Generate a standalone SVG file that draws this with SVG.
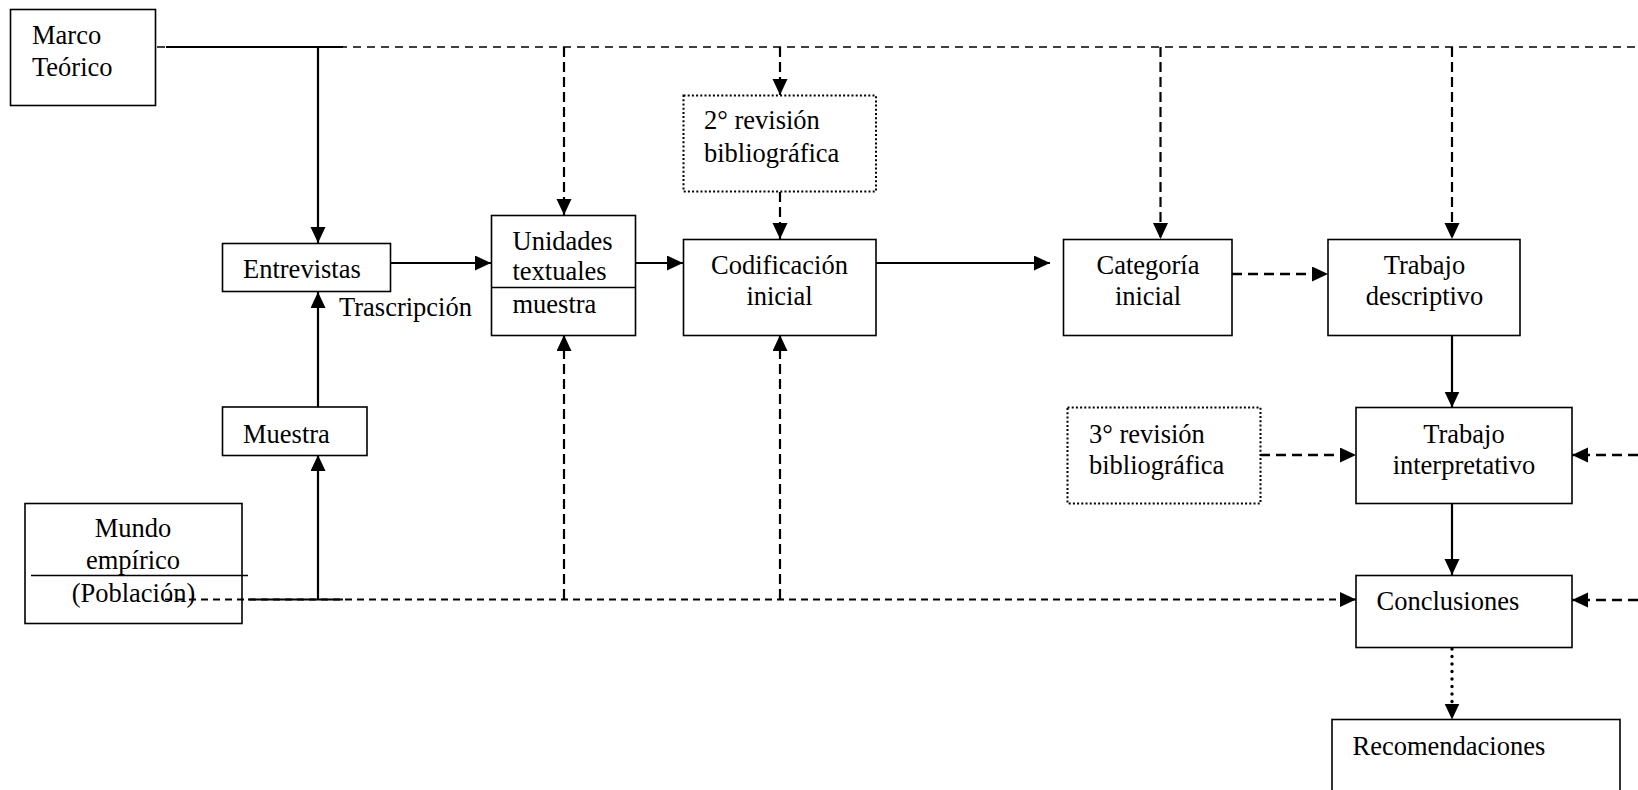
<svg xmlns="http://www.w3.org/2000/svg" width="1638" height="790" viewBox="0 0 1638 790">
<style>
.box{fill:#fff;stroke:#000;stroke-width:1.6}
.dotbox{fill:#fff;stroke:#000;stroke-width:2;stroke-dasharray:2 2.2}
.t{font-family:"Liberation Serif","Times New Roman",serif;font-size:26.5px;fill:#000}
.c{text-anchor:middle}
.solid{fill:none;stroke:#000;stroke-width:2.2}
.dh{fill:none;stroke:#000;stroke-width:1.7;stroke-dasharray:8 6}
.dv{fill:none;stroke:#000;stroke-width:2.2;stroke-dasharray:10 5}
.da{fill:none;stroke:#000;stroke-width:2.6;stroke-dasharray:10 6}
.dot{fill:none;stroke:#000;stroke-width:3.4;stroke-linecap:round;stroke-dasharray:0 7.5}
</style>
<defs>
<marker id="ah" markerUnits="userSpaceOnUse" markerWidth="16" markerHeight="16" refX="16" refY="7.5" orient="auto">
<path d="M0,0 L16,7.5 L0,15 z" fill="#000"/>
</marker>
</defs>
<rect width="1638" height="790" fill="#fff"/>
<g id="mundo-box">
<rect x="25" y="503.5" width="217" height="120" fill="#fff" stroke="none"/>
</g>
<g id="connectors">
<line class="dh" x1="157" y1="47" x2="1638" y2="47"/>
<line class="solid" x1="166" y1="47" x2="343" y2="47"/>
<line class="solid" x1="318" y1="47" x2="318" y2="243" marker-end="url(#ah)"/>
<line class="solid" x1="391" y1="263" x2="491" y2="263" marker-end="url(#ah)"/>
<line class="solid" x1="636" y1="263" x2="683" y2="263" marker-end="url(#ah)"/>
<line class="solid" x1="876" y1="263" x2="1050" y2="263" marker-end="url(#ah)"/>
<line class="solid" x1="318" y1="407" x2="318" y2="292" marker-end="url(#ah)"/>
<line class="solid" x1="318" y1="599" x2="318" y2="455" marker-end="url(#ah)"/>
<line class="dv" x1="564" y1="47" x2="564" y2="215" marker-end="url(#ah)"/>
<line class="dv" x1="780" y1="47" x2="780" y2="95" marker-end="url(#ah)"/>
<line class="dv" x1="780" y1="192" x2="780" y2="239" marker-end="url(#ah)"/>
<line class="dv" x1="1160.5" y1="47" x2="1160.5" y2="239" marker-end="url(#ah)"/>
<line class="dv" x1="1452" y1="47" x2="1452" y2="239" marker-end="url(#ah)"/>
<line class="da" x1="1232" y1="274" x2="1328" y2="274" marker-end="url(#ah)"/>
<line class="solid" x1="1452" y1="335" x2="1452" y2="407.5" marker-end="url(#ah)"/>
<line class="da" x1="1260" y1="455" x2="1356" y2="455" marker-end="url(#ah)"/>
<line class="da" x1="1638" y1="455" x2="1572" y2="455" marker-end="url(#ah)"/>
<line class="solid" x1="1452" y1="503" x2="1452" y2="575" marker-end="url(#ah)"/>
<line class="dh" x1="165" y1="599.5" x2="1356" y2="599.5" style="stroke-width:2;stroke-dasharray:7 5" marker-end="url(#ah)"/>
<line class="solid" x1="248" y1="599.5" x2="343" y2="599.5"/>
<line class="dv" x1="564" y1="599" x2="564" y2="335" marker-end="url(#ah)"/>
<line class="dv" x1="780" y1="599" x2="780" y2="335" marker-end="url(#ah)"/>
<line class="da" x1="1638" y1="600" x2="1572" y2="600" marker-end="url(#ah)"/>
<line class="dot" x1="1452" y1="649" x2="1452" y2="710"/>
<line x1="1452" y1="700" x2="1452" y2="719.5" stroke="#000" stroke-width="0.1" marker-end="url(#ah)"/>
</g>
<g id="marco">
<rect class="box" x="10.5" y="9.5" width="145" height="96"/>
<text class="t" x="32" y="44">Marco</text>
<text class="t" x="32" y="76">Teórico</text>
</g>
<g id="entrevistas">
<rect class="box" x="222.5" y="243.5" width="168" height="48"/>
<text class="t" x="243" y="278">Entrevistas</text>
</g>
<g id="trascripcion">
<text class="t" x="339" y="316">Trascripción</text>
</g>
<g id="unidades">
<rect class="box" x="491.5" y="215.5" width="144" height="120"/>
<line x1="491.5" y1="287.5" x2="635.5" y2="287.5" stroke="#000" stroke-width="1.6"/>
<text class="t" x="512.5" y="250">Unidades</text>
<text class="t" x="512.5" y="280">textuales</text>
<text class="t" x="512.5" y="312.5">muestra</text>
</g>
<g id="revision2">
<rect class="dotbox" x="683.5" y="95.5" width="192.5" height="96"/>
<text class="t" x="704" y="129">2° revisión</text>
<text class="t" x="704" y="161.5">bibliográfica</text>
</g>
<g id="codificacion">
<rect class="box" x="683.5" y="239.5" width="192.5" height="96"/>
<text class="t c" x="779.5" y="274">Codificación</text>
<text class="t c" x="779.5" y="305">inicial</text>
</g>
<g id="categoria">
<rect class="box" x="1063.5" y="239.5" width="168.5" height="96"/>
<text class="t c" x="1148" y="274">Categoría</text>
<text class="t c" x="1148" y="305">inicial</text>
</g>
<g id="descriptivo">
<rect class="box" x="1328" y="239.5" width="192" height="96"/>
<text class="t c" x="1424.5" y="274">Trabajo</text>
<text class="t c" x="1424.5" y="305">descriptivo</text>
</g>
<g id="muestra">
<rect class="box" x="222.5" y="407" width="144.5" height="48.5"/>
<text class="t" x="243" y="442.5">Muestra</text>
</g>
<g id="mundo">
<rect x="25" y="503.5" width="217" height="120" fill="none" stroke="#000" stroke-width="1.6"/>
<text class="t c" x="133" y="537">Mundo</text>
<text class="t c" x="133" y="569">empírico</text>
<line x1="31" y1="575.5" x2="248" y2="575.5" stroke="#000" stroke-width="1.6"/>
<text class="t c" x="133.5" y="601.5">(Población)</text>
</g>
<g id="revision3">
<rect class="dotbox" x="1067.5" y="407.5" width="193" height="96"/>
<text class="t" x="1089" y="442.5">3° revisión</text>
<text class="t" x="1089" y="474">bibliográfica</text>
</g>
<g id="interpretativo">
<rect class="box" x="1356" y="407.5" width="216" height="96"/>
<text class="t c" x="1464" y="442.5">Trabajo</text>
<text class="t c" x="1464" y="474">interpretativo</text>
</g>
<g id="conclusiones">
<rect class="box" x="1356" y="575.5" width="216" height="72"/>
<text class="t" x="1376.5" y="610">Conclusiones</text>
</g>
<g id="recomendaciones">
<rect class="box" x="1332" y="719.5" width="288" height="96"/>
<text class="t" x="1352.5" y="755">Recomendaciones</text>
</g>
</svg>
